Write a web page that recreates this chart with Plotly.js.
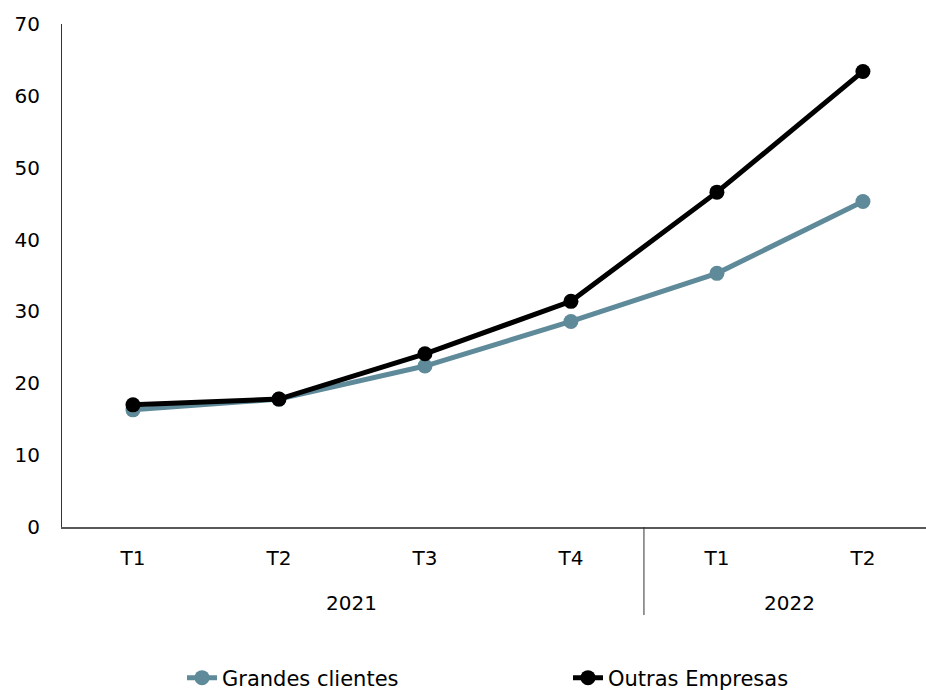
<!DOCTYPE html>
<html>
<head>
<meta charset="utf-8">
<script src="https://cdn.plot.ly/plotly-3.0.1.min.js"></script>
<style>html,body{margin:0;padding:0;background:#fff;}#chart{width:926px;height:690px;}</style>
</head>
<body>
<div id="chart"></div>
<script>
var years = ["2021","2021","2021","2021","2022","2022"];
var quarters = ["T1","T2","T3","T4","T1","T2"];
var grandesClientes = [16.3, 17.8, 22.4, 28.6, 35.3, 45.3];
var outrasEmpresas = [17.0, 17.8, 24.1, 31.4, 46.6, 63.4];
var seriesNames = ["Grandes clientes", "Outras Empresas"];
var seriesColors = ["#5f8a9a", "#000000"];

var font = "DejaVu Sans, Verdana, sans-serif";
var idx = quarters.map(function(_, i){ return i; });

var traces = [
  {x:idx, y:grandesClientes, name:seriesNames[0], type:"scatter", mode:"lines+markers", legend:"legend",
   line:{color:seriesColors[0], width:5}, marker:{color:seriesColors[0], size:15}},
  {x:idx, y:outrasEmpresas, name:seriesNames[1], type:"scatter", mode:"lines+markers", legend:"legend2",
   line:{color:seriesColors[1], width:5}, marker:{color:seriesColors[1], size:15}}
];

// year group labels and dividers derived from the years array
var annotations = [], shapes = [];
var start = 0;
for (var i = 1; i <= years.length; i++) {
  if (i === years.length || years[i] !== years[start]) {
    annotations.push({x:(start + i - 1) / 2, xref:"x", y:-0.151, yref:"paper", text:years[start],
      showarrow:false, xanchor:"center", yanchor:"middle", font:{family:font, size:20, color:"#000"}});
    shapes.push({type:"line", xref:"x", yref:"paper", x0:start - 0.5, x1:start - 0.5, y0:0, y1:-0.175,
      line:{color:"#333", width:1}});
    start = i;
  }
}

var legendFont = {family:font, size:21, color:"#000"};
var layout = {
  width:926, height:690,
  margin:{l:62, r:0, t:24, b:163, autoexpand:false},
  paper_bgcolor:"#fff", plot_bgcolor:"#fff",
  font:{family:font, size:20, color:"#000"},
  showlegend:true,
  legend:{orientation:"h", xref:"container", yref:"container", x:182/926, xanchor:"left",
          y:12/690, yanchor:"middle", font:legendFont, bgcolor:"rgba(0,0,0,0)"},
  legend2:{orientation:"h", xref:"container", yref:"container", x:568/926, xanchor:"left",
          y:12/690, yanchor:"middle", font:legendFont, bgcolor:"rgba(0,0,0,0)"},
  xaxis:{range:[-0.486, 5.432], tickvals:idx, ticktext:quarters, showgrid:false, zeroline:false,
         showline:true, linecolor:"#595959", linewidth:2, ticks:"", ticklabelstandoff:12, automargin:false,
         tickfont:{family:font, size:20, color:"#000"}},
  yaxis:{range:[0,70], dtick:10, showgrid:false, zeroline:false, showline:true, linecolor:"#333", linewidth:1,
         ticks:"", ticklabelstandoff:17, automargin:false, tickfont:{family:font, size:20, color:"#000"}},
  annotations:annotations,
  shapes:shapes
};
Plotly.newPlot("chart", traces, layout, {displayModeBar:false, staticPlot:true});
</script>
</body>
</html>
